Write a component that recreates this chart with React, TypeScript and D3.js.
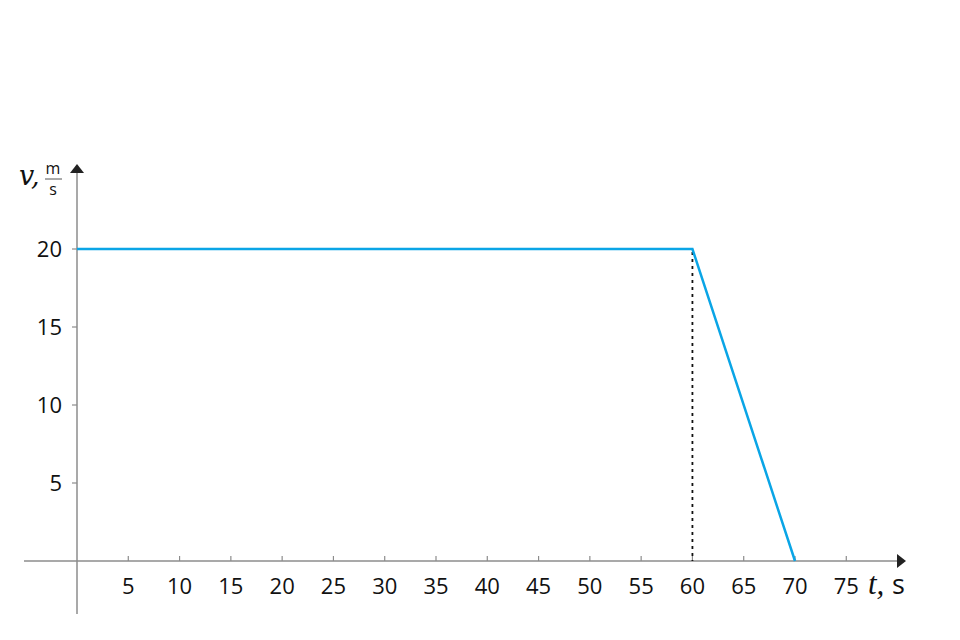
import React from "react";
import * as d3 from "d3";

const timeValues = [0, 60, 70];
const speedValues = [20, 20, 0];
const xTicks = [5, 10, 15, 20, 25, 30, 35, 40, 45, 50, 55, 60, 65, 70, 75];
const yTicks = [5, 10, 15, 20];

export default function App() {
  const W = 960, H = 640;
  const x = d3.scaleLinear().domain([0, 70]).range([77, 795]);
  const y = d3.scaleLinear().domain([0, 20]).range([561, 249]);
  const pts: [number, number][] = timeValues.map((t, i) => [t, speedValues[i]]);
  const line = d3.line<[number, number]>().x(d => x(d[0])).y(d => y(d[1]));
  const font = "'Open Sans', 'Noto Sans', sans-serif";
  const axisColor = "#8c8c8c";
  const x0 = x(0), y0 = y(0);
  return (
    <svg width={W} height={H} style={{ position: "absolute", left: 0, top: 0 }}>
      <rect width={W} height={H} fill="#fff" />
      {/* axes */}
      <line x1={24} x2={898} y1={y0} y2={y0} stroke={axisColor} strokeWidth={1.5} />
      <line x1={x0} x2={x0} y1={614} y2={172} stroke={axisColor} strokeWidth={1.5} />
      <path d={`M${897},${y0 - 7} L${906},${y0} L${897},${y0 + 7} Z`} fill="#222" />
      <path d={`M${x0 - 7},${173} L${x0},${164} L${x0 + 7},${173} Z`} fill="#222" />
      {xTicks.map(t => (
        <g key={"x" + t}>
          <line x1={x(t)} x2={x(t)} y1={y0 - 5} y2={y0} stroke={axisColor} strokeWidth={1.2} />
          <text x={x(t)} y={y0 + 33} textAnchor="middle" fontFamily={font} fontSize={22} fill="#111">{t}</text>
        </g>
      ))}
      {yTicks.map(v => (
        <g key={"y" + v}>
          <line x1={x0 - 5} x2={x0} y1={y(v)} y2={y(v)} stroke={axisColor} strokeWidth={1.2} />
          <text x={62} y={y(v) + 8} textAnchor="end" fontFamily={font} fontSize={22} fill="#111">{v}</text>
        </g>
      ))}
      {/* dotted drop line */}
      <line x1={x(60)} x2={x(60)} y1={y(20) + 3} y2={y0} stroke="#111" strokeWidth={1.8} strokeDasharray="3,4" />
      {/* data line */}
      <path d={line(pts) || ""} fill="none" stroke="#0aa5e6" strokeWidth={2.5} strokeLinejoin="miter" />
      {/* y label */}
      <text x={19} y={185} fontFamily="'DejaVu Serif', 'Liberation Serif', serif" fontStyle="italic" fontSize={27} fill="#111">v,</text>
      <text x={53} y={174} textAnchor="middle" fontFamily={font} fontSize={16} fill="#111">m</text>
      <line x1={45} x2={62} y1={179} y2={179} stroke="#555" strokeWidth={1} />
      <text x={53} y={195} textAnchor="middle" fontFamily={font} fontSize={16} fill="#111">s</text>
      {/* x label */}
      <text x={868} y={594} fontFamily="'Liberation Serif', serif" fontStyle="italic" fontSize={31} fill="#111">t,</text>
      <text x={892} y={594} fontFamily={font} fontSize={27} fill="#111">s</text>
    </svg>
  );
}
